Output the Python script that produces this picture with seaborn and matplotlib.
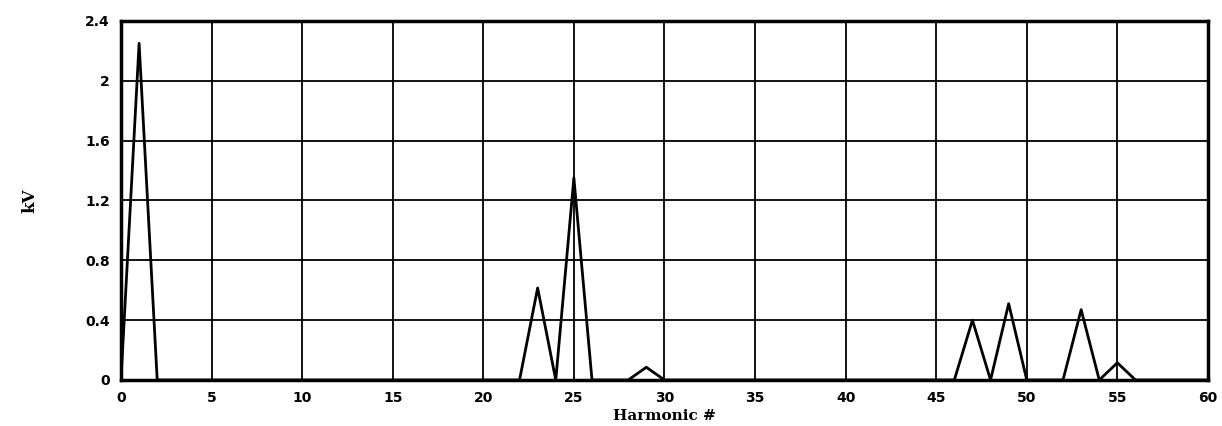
import numpy as np
import pandas as pd
import matplotlib
matplotlib.use("Agg")
import matplotlib.pyplot as plt
import seaborn as sns

# Harmonic spectrum: harmonic number and magnitude (kV)
harmonics = list(range(0, 61))
peak_harmonics = [1, 23, 25, 29, 47, 49, 53, 55]
peak_values = [2.25, 0.615, 1.35, 0.085, 0.40, 0.51, 0.47, 0.115]
x_ticks = [0, 5, 10, 15, 20, 25, 30, 35, 40, 45, 50, 55, 60]
y_ticks = [0, 0.4, 0.8, 1.2, 1.6, 2.0, 2.4]
y_tick_labels = ["0", "0.4", "0.8", "1.2", "1.6", "2", "2.4"]

kv = [0.0] * len(harmonics)
for h, v in zip(peak_harmonics, peak_values):
    kv[harmonics.index(h)] = v

df = pd.DataFrame({"harmonic": harmonics, "kV": kv})

sns.set_style("white")
plt.rcParams["text.color"] = "black"
plt.rcParams["axes.labelcolor"] = "black"
plt.rcParams["xtick.color"] = "black"
plt.rcParams["ytick.color"] = "black"

fig = plt.figure(figsize=(12.22, 4.26), dpi=100)
ax = fig.add_axes([0.099, 0.108, 0.8895, 0.843])

sns.lineplot(data=df, x="harmonic", y="kV", ax=ax, color="black",
             linewidth=2.0, estimator=None)

ax.set_xlim(0, 60)
ax.set_ylim(0, 2.4)
ax.set_xticks(x_ticks)
ax.set_yticks(y_ticks)
ax.set_yticklabels(y_tick_labels)

ax.grid(True, color="black", linewidth=1.3)
ax.set_axisbelow(True)
for sp in ax.spines.values():
    sp.set_color("black")
    sp.set_linewidth(2.5)

ax.tick_params(axis="both", direction="out", length=4, width=1.3,
               color="black", labelcolor="black", labelsize=10, pad=4)
for lbl in ax.get_xticklabels() + ax.get_yticklabels():
    lbl.set_fontweight("bold")
    lbl.set_family("DejaVu Sans")

ax.set_xlabel("Harmonic #", fontsize=11, fontweight="bold",
              family="DejaVu Serif", labelpad=3, color="black")
ax.set_ylabel("kV", fontsize=12, fontweight="bold", family="DejaVu Serif",
              labelpad=34, color="black")

fig.savefig("out.png", dpi=100)
